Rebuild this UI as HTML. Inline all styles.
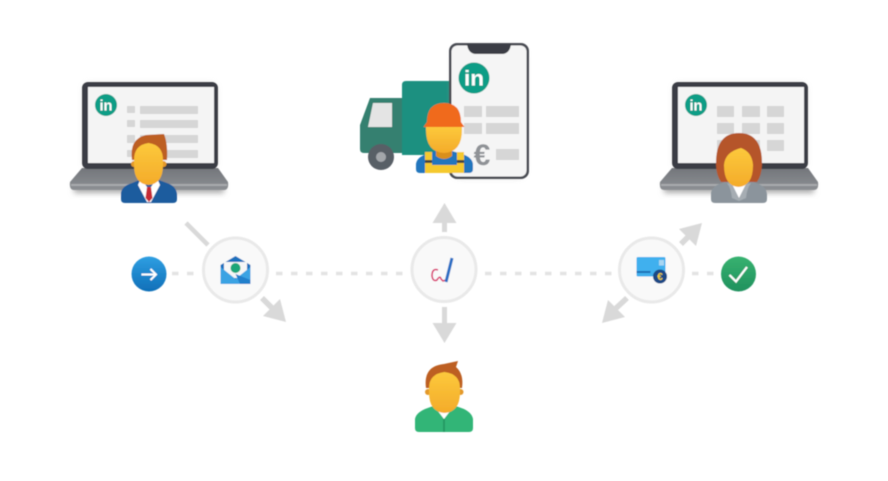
<!DOCTYPE html>
<html><head><meta charset="utf-8"><style>
html,body{margin:0;padding:0;background:#fff;width:888px;height:481px;overflow:hidden}
svg{display:block;font-family:"Liberation Sans",sans-serif}
</style></head><body>
<svg width="888" height="481" viewBox="0 0 888 481" xmlns="http://www.w3.org/2000/svg">
<defs>
<linearGradient id="skin" x1="0" y1="0" x2="0" y2="1"><stop offset="0" stop-color="#fcc93c"/><stop offset="1" stop-color="#f4ab2a"/></linearGradient>
<linearGradient id="blue" x1="0" y1="0" x2="0" y2="1"><stop offset="0" stop-color="#2f9fe2"/><stop offset="1" stop-color="#0f6fb8"/></linearGradient>
<linearGradient id="grn" x1="0" y1="0" x2="0" y2="1"><stop offset="0" stop-color="#38b270"/><stop offset="1" stop-color="#1f915e"/></linearGradient>
<linearGradient id="base" x1="0" y1="0" x2="0" y2="1"><stop offset="0" stop-color="#73767b"/><stop offset="1" stop-color="#8d9094"/></linearGradient>
<filter id="soft" x="-5%" y="-5%" width="110%" height="110%"><feGaussianBlur stdDeviation="0.5"/></filter>
<filter id="sh" x="-20%" y="-60%" width="140%" height="220%"><feGaussianBlur stdDeviation="3"/></filter>
</defs>
<rect x="0" y="0" width="888" height="481" fill="#fff"/>
<g filter="url(#soft)">

<!-- left laptop -->
<g id="lap">
<rect x="74" y="184" width="150" height="9" fill="#aaa" filter="url(#sh)"/>
<rect x="84" y="84" width="132" height="84" rx="6" fill="#ccc" filter="url(#sh)"/>
<path d="M82 168H218L228 182Q229 190 224 190H74Q69 190 70 182Z" fill="url(#base)"/>
<rect x="71" y="184" width="156" height="2" fill="#a8aaad"/>
<rect x="82" y="82" width="136" height="87" rx="6" fill="#3a3e44"/>
<rect x="88" y="87" width="126" height="76" fill="#f4f4f4"/>
<circle cx="106" cy="105" r="11" fill="#0f9d86"/>
<text x="106" y="110.500" text-anchor="middle" font-size="15" font-weight="700" fill="#fff" textLength="13" lengthAdjust="spacingAndGlyphs">in</text>
</g>
<g fill="#d6d6d6">
<rect x="127" y="106" width="8" height="7"/><rect x="140" y="106" width="58" height="8"/>
<rect x="127" y="120" width="8" height="7"/><rect x="140" y="120" width="58" height="8"/>
<rect x="127" y="135" width="8" height="8"/><rect x="140" y="135" width="58" height="8"/>
<rect x="127" y="150" width="8" height="7"/><rect x="140" y="150" width="58" height="8"/>
</g>
<!-- man -->
<path d="M121 199V193Q122 186 132 183L142 179H156L167 183Q176 186 177 194V199Q177 203 173 203H125Q121 203 121 199Z" fill="#1c5c9e"/>
<path d="M141 178L149 190L157 178L160 185L151 202H147L138 185Z" fill="#fff"/>
<path d="M147 187H151L152.500 198L149 202L145.500 198Z" fill="#c62a35"/>
<path d="M132 160Q129 139 146 135L164 134Q168 144 167 160Z" fill="#bd5f22"/>
<circle cx="134" cy="164" r="3" fill="#e3992a"/><circle cx="163.500" cy="164" r="3" fill="#e3992a"/>
<path d="M134 160Q134 145 148.500 143Q163 145 163 160V165Q163 184 148.500 185Q134 184 134 165Z" fill="url(#skin)"/>

<!-- right laptop -->
<use href="#lap" x="590"/>
<g fill="#d6d6d6">
<rect x="717" y="106" width="17" height="11"/><rect x="742" y="106" width="18" height="11"/><rect x="767" y="106" width="17" height="11"/>
<rect x="717" y="123" width="17" height="11"/><rect x="742" y="123" width="18" height="11"/><rect x="767" y="123" width="17" height="11"/>
<rect x="717" y="140" width="17" height="11"/><rect x="742" y="140" width="18" height="11"/><rect x="767" y="140" width="17" height="11"/>
</g>
<!-- woman -->
<path d="M711 199V193Q712 186 722 183L730 180H747L756 183Q766 186 767 194V199Q767 203 763 203H715Q711 203 711 199Z" fill="#8b949c"/>
<path d="M727 183Q731 188 732 198L739 201L746 198Q747 188 751 183L739 186Z" fill="#a6adb3"/>
<path d="M731 182L739 198L747 182Z" fill="#fff"/>
<path d="M716 163Q716 133 739 133Q762 133 762 163Q762 175 757 182H721Q716 175 716 163Z" fill="#b5552a"/>
<path d="M724 165Q725 152 741 148Q752 152 753 165Q753 186 738.500 187Q724 186 724 165Z" fill="url(#skin)"/>

<!-- truck -->
<path d="M402 85Q402 81 406 81H452V155H402Z" fill="#1f9080"/>
<path d="M370 98H402V153H364Q360 153 360 149V125Z" fill="#36806f"/>
<path d="M368 127L373 103H392V127Z" fill="#e4e4e4"/>
<circle cx="381" cy="157" r="13" fill="#585e66"/>
<circle cx="381" cy="157" r="5" fill="#a3a6aa"/>

<!-- phone -->
<rect x="453" y="47" width="72" height="130" rx="8" fill="#bbb" filter="url(#sh)"/>
<rect x="449" y="43" width="80" height="136" rx="8" fill="#484c53"/>
<rect x="451.500" y="45.500" width="75" height="131" rx="6" fill="#f5f5f5"/>
<path d="M467 44H511Q510 53 503 54H475Q468 53 467 44Z" fill="#3a3e44"/>
<circle cx="474" cy="78" r="15.500" fill="#0f9d86"/>
<text x="474" y="85.500" text-anchor="middle" font-size="21" font-weight="700" fill="#fff" textLength="20" lengthAdjust="spacingAndGlyphs">in</text>
<g fill="#d6d6d6">
<rect x="464" y="106" width="18" height="11"/><rect x="486" y="106" width="33" height="11"/>
<rect x="464" y="123" width="18" height="11"/><rect x="486" y="123" width="33" height="11"/>
<rect x="496" y="149" width="23" height="11"/>
</g>
<text x="482" y="165" text-anchor="middle" font-size="30" font-weight="700" fill="#8f9296">€</text>

<!-- worker -->
<path d="M416 169V164Q417 157 427 154L436 151H452L462 154Q472 157 473 164V169Q473 173 469 173H420Q416 173 416 169Z" fill="#2276bd"/>
<path d="M425 152H432V165H457V152H464V173H425Z" fill="#f5c92e"/>
<path d="M425 160H432V163H425ZM457 160H464V163H457Z" fill="#444"/>
<path d="M436 146H452V156Q444 162 436 156Z" fill="#d98f1e"/>
<path d="M426 127H462V130Q462 152 444 153Q426 152 426 130Z" fill="url(#skin)"/>
<path d="M427 122Q427 103 444 103Q461 103 461 122L464.500 127H423.500Z" fill="#f06a1d"/>

<!-- dashes -->
<g stroke="#e3e3e3" stroke-width="3.500" stroke-dasharray="6.500 8.500" fill="none">
<path d="M172 273.500H196"/>
<path d="M276 273.500H403"/>
<path d="M485 273.500H612"/>
<path d="M692 273.500H716"/>
</g>

<!-- arrows -->
<g fill="#d9d9d9" stroke="#d9d9d9">
<path d="M186 223L208 245" stroke-width="4.500" fill="none"/>
<path d="M262 298L274 310" stroke-width="5.500" fill="none"/>
<path d="M286 322L263 316L280 299Z" stroke="none"/>
<path d="M444.500 232V218" stroke-width="5" fill="none"/>
<path d="M444.500 203L456.500 223H432.500Z" stroke="none"/>
<path d="M444.500 307V326" stroke-width="5" fill="none"/>
<path d="M444.500 343L432.500 323H456.500Z" stroke="none"/>
<path d="M681 244L692 233" stroke-width="5.500" fill="none"/>
<path d="M702 223L679 229L696 246Z" stroke="none"/>
<path d="M627 298L613 311" stroke-width="5.500" fill="none"/>
<path d="M602 323L608 300L625 317Z" stroke="none"/>
</g>

<!-- circles -->
<g fill="#f9f9f9" stroke="#e9e9e9" stroke-width="3">
<circle cx="235.500" cy="270" r="32"/>
<circle cx="444" cy="269.500" r="32"/>
<circle cx="651.500" cy="270" r="32"/>
</g>

<!-- envelope -->
<path d="M220.500 265L235.500 256L250.500 265V284H220.500Z" fill="#1c71bd"/>
<path d="M224 262H247V278H224Z" fill="#f6f6f6"/>
<circle cx="235.500" cy="268" r="5" fill="#1fa678"/>
<path d="M220.500 267L235.500 279L250.500 267V284H220.500Z" fill="#3aa3e3"/>
<path d="M235.500 274L250.500 280V284H240Z" fill="#2480cc"/>

<!-- signature -->
<path d="M438 270Q432 268 432 276Q433 282 437 280Q440 275 441 279L443 281L446 280" fill="none" stroke="#d9396f" stroke-width="1.600"/>
<path d="M446 282L452 258" stroke="#2a6fc4" stroke-width="3" fill="none"/>

<!-- card -->
<rect x="636.500" y="257" width="29" height="19.500" rx="1.500" fill="#3fb0ee"/>
<rect x="636.500" y="271" width="14" height="2" fill="#1c6fb5"/>
<rect x="659" y="260" width="5" height="5.500" fill="#a8d6f2"/>
<circle cx="660" cy="276.500" r="7" fill="#1b4a86"/>
<text x="660" y="280" text-anchor="middle" font-size="10" font-weight="700" fill="#f5d23a">€</text>

<!-- blue/green -->
<circle cx="149" cy="274" r="17.500" fill="url(#blue)"/>
<path d="M141.500 274.500H156M150.500 269L156 274.500L150.500 280" fill="none" stroke="#fff" stroke-width="2"/>
<circle cx="738.500" cy="274" r="17.500" fill="url(#grn)"/>
<path d="M729.500 275L736 281.500L747 267" fill="none" stroke="#fff" stroke-width="2.200"/>

<!-- bottom person -->
<path d="M415 428V419Q416 413 425 409L436 405H453L464 409Q472 413 473 419V428Q473 432 469 432H419Q415 432 415 428Z" fill="#31b577"/>
<path d="M434 406L444 419L454 406L451 404H437Z" fill="#fff"/>
<path d="M443 419H445V432H443Z" fill="#279a63"/>
<path d="M426 388Q423 366 444 364L458 361L456 367Q464 374 462 388Z" fill="#bd5f22"/>
<circle cx="428" cy="392" r="3" fill="#e3992a"/><circle cx="460.500" cy="392" r="3" fill="#e3992a"/>
<path d="M429 388Q429 374 444.500 372Q460 374 460 388V392Q460 412 444.500 413Q429 412 429 392Z" fill="url(#skin)"/>
</g>
</svg>
</body></html>
